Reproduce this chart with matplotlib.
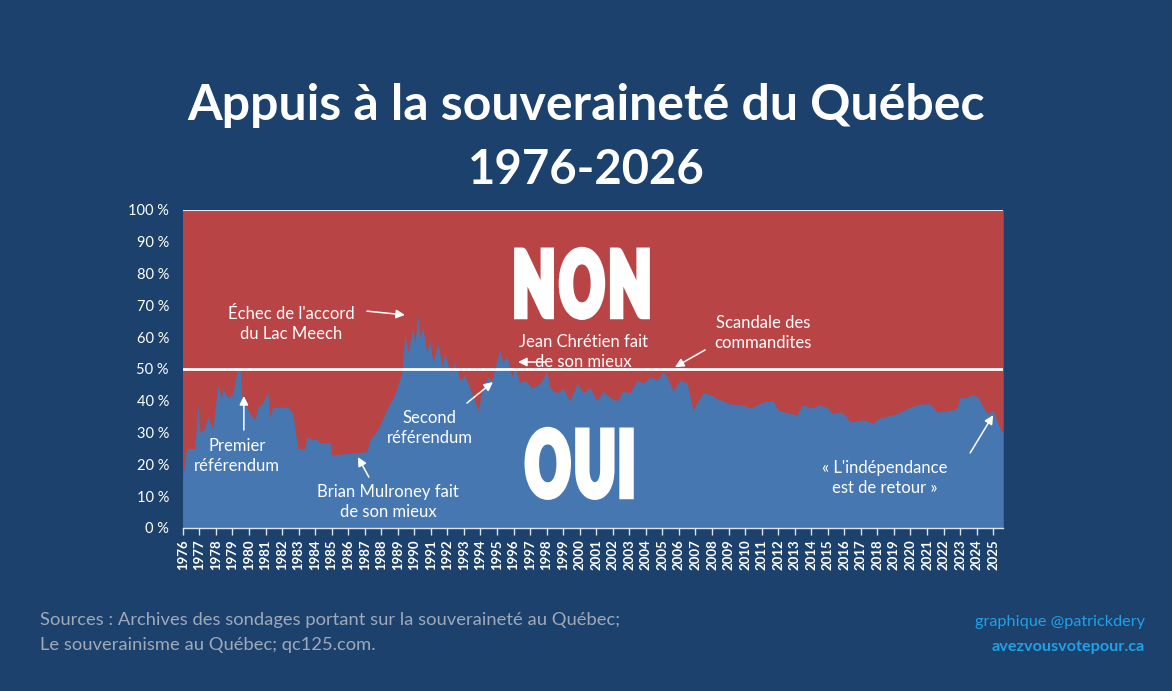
import matplotlib
matplotlib.use("Agg")
import numpy as np
import matplotlib.pyplot as plt
from matplotlib.patheffects import AbstractPathEffect
from matplotlib.path import Path
from matplotlib.transforms import IdentityTransform

# ---------------- data ----------------
years = [1976.00, 1976.20, 1976.30, 1976.73, 1976.91, 1977.03, 1977.30, 1977.51, 1977.81,
         1978.12, 1978.36, 1978.42, 1978.72, 1979.02, 1979.27, 1979.45, 1979.57, 1979.75,
         1980.05, 1980.36, 1980.54, 1980.78, 1981.14, 1981.26, 1981.44, 1982.35, 1982.65,
         1982.96, 1983.38, 1983.50, 1983.86, 1984.11, 1984.29, 1984.89, 1985.01, 1987.13,
         1987.31, 1987.80, 1988.40, 1988.83, 1989.25, 1989.43, 1989.61, 1989.91, 1990.04,
         1990.22, 1990.34, 1990.52, 1990.76, 1990.94, 1991.12, 1991.43, 1991.67, 1991.85,
         1992.15, 1992.45, 1992.76, 1993.06, 1993.36, 1993.66, 1993.85, 1994.15, 1994.45,
         1994.69, 1994.87, 1995.18, 1995.36, 1995.60, 1995.90, 1996.08, 1996.39, 1996.69,
         1997.11, 1997.60, 1998.02, 1998.20, 1998.63, 1998.99, 1999.41, 1999.84, 2000.20,
         2000.62, 2001.05, 2001.41, 2001.83, 2002.26, 2002.62, 2003.04, 2003.47, 2003.83,
         2004.25, 2004.68, 2005.04, 2005.28, 2005.64, 2006.07, 2006.49, 2006.85, 2007.16,
         2007.46, 2007.88, 2008.18, 2009.09, 2009.88, 2010.30, 2011.09, 2011.69, 2012.00,
         2013.15, 2013.45, 2014.12, 2014.42, 2014.96, 2015.26, 2015.75, 2016.05, 2016.35,
         2017.14, 2017.74, 2018.17, 2019.19, 2019.98, 2020.59, 2021.19, 2021.61, 2022.40,
         2022.82, 2023.00, 2023.43, 2023.79, 2024.09, 2024.52, 2024.70, 2025.00, 2025.43,
         2025.61]
oui = [16, 24, 25, 25, 38.7, 30, 31, 35, 31,
       45, 41, 44, 41, 42, 49, 51, 41, 39,
       36, 34, 38, 39, 42.5, 35, 38, 38, 36,
       25, 25, 28.6, 27.7, 28, 26.7, 27, 23, 24,
       27.7, 31, 38, 42, 49, 61, 55, 63, 58,
       67, 60, 63, 55, 59, 52, 58, 51, 55,
       49, 52, 46.5, 48, 44, 40, 37, 44, 47.5,
       46, 50.6, 56, 52, 54, 47.5, 50.6, 45.6, 46.5,
       44, 45.5, 49, 44, 42.5, 44, 40, 45.6, 42.5,
       44, 40, 43, 41, 40, 43, 42.5, 46.5, 45.6,
       47.5, 46.5, 49, 47.5, 43, 46.5, 45.6, 37, 40,
       42.5, 42, 41, 39, 38.7, 37.7, 39.6, 40, 37,
       35.5, 38.7, 37.7, 38.7, 38, 36, 36.5, 35.5, 33.3,
       34, 33, 34.6, 36, 38, 39, 39, 36.5, 37,
       37.7, 41, 41, 42, 41, 37, 36, 37, 31,
       30]

year_ticks = list(range(1976, 2026))
pct_ticks = list(range(0, 101, 10))
pct_labels = [f"{p} %" for p in pct_ticks]

title_lines = ["Appuis à la souveraineté du Québec", "1976-2026"]

annotations = [
    ("Échec de l'accord\ndu Lac Meech", (1982.55, 64.2), (1987.13, 68.2), (1989.43, 67.0)),
    ("Premier\nréférendum", (1979.27, 22.6), (1979.69, 30.8), (1979.69, 41.5)),
    ("Brian Mulroney fait\nde son mieux", (1988.40, 8.2), (1987.25, 16.0), (1986.59, 22.3)),
    ("Second\nréférendum", (1990.94, 31.4), (1993.18, 39.3), (1994.75, 45.9)),
    ("Jean Chrétien fait\nde son mieux", (2000.20, 55.3), (1997.90, 52.2), (1996.27, 52.2)),
    ("Scandale des\ncommandites", (2011.09, 61.3), (2007.58, 56.0), (2005.76, 50.6)),
    ("« L'indépendance\nest de retour »", (2018.47, 15.7), (2023.61, 23.6), (2025.0, 35.5)),
]

# ---------------- style ----------------
BG = "#1c416d"
RED = "#b94446"
BLUE = "#4677b1"
WHITE = "#ffffff"
FONT = ["Lato", "DejaVu Sans"]
plt.rcParams["font.family"] = FONT


class Condense(AbstractPathEffect):
    """Condensed, emboldened rendering of a text: glyph positions are pulled
    together by s_pos and each glyph outline is narrowed by s_glyph."""

    def __init__(self, s_pos, s_glyph, lw):
        super().__init__()
        self.sp = s_pos
        self.sg = s_glyph
        self.lw = lw

    def draw_path(self, renderer, gc, tpath, affine, rgbFace=None):
        verts = affine.transform(tpath.vertices)
        codes = tpath.codes
        if codes is None:
            codes = np.full(len(verts), Path.LINETO, dtype=np.uint8)
            codes[0] = Path.MOVETO
        valid = codes != Path.CLOSEPOLY
        cx = (verts[valid, 0].min() + verts[valid, 0].max()) / 2
        starts = list(np.flatnonzero(codes == Path.MOVETO)) + [len(codes)]
        new = verts.copy()
        for a, b in zip(starts[:-1], starts[1:]):
            v = verts[a:b]
            m = valid[a:b]
            if not m.any():
                continue
            ci = (v[m, 0].min() + v[m, 0].max()) / 2
            new[a:b, 0] = cx + self.sp * (ci - cx) + self.sg * (v[:, 0] - ci)
        gc0 = renderer.new_gc()
        gc0.copy_properties(gc)
        gc0.set_linewidth(self.lw)
        gc0.set_foreground(rgbFace)
        gc0.set_joinstyle("miter")
        renderer.draw_path(gc0, Path(new, codes), IdentityTransform(), rgbFace)
        gc0.restore()


fig = plt.figure(figsize=(11.72, 6.91), dpi=100, facecolor=BG)
ax = fig.add_axes([0.156, 0.2359, 0.7, 0.4602])
ax.set_facecolor(RED)

ax.fill_between(years, oui, 100, color=RED, lw=0)
ax.fill_between(years, 0, oui, color=BLUE, lw=0)
ax.axhline(50, color=WHITE, lw=2)
ax.axhline(100, color="#e8e8ee", lw=1.5)

ax.set_xlim(1976, 2025.61)
ax.set_ylim(0, 100)

ax.set_xticks(year_ticks)
ax.set_xticklabels([str(y) for y in year_ticks], rotation=90, fontsize=9.5,
                   color=WHITE, fontweight="bold")
ax.set_yticks(pct_ticks)
ax.set_yticklabels(pct_labels, fontsize=10.5, color=WHITE)
ax.tick_params(axis="x", colors="#dfe4ec", length=5, width=1, pad=3, labelcolor=WHITE)
ax.tick_params(axis="y", length=0, pad=10, labelcolor=WHITE)
for s in ["top", "right", "left"]:
    ax.spines[s].set_visible(False)
ax.spines["bottom"].set_color("#dfe4ec")
ax.spines["bottom"].set_linewidth(1)

# big labels
for word, pos in (("NON", (2000.14, 74.8)), ("OUI", (2000.02, 18.2))):
    ax.text(pos[0], pos[1], word, ha="center", va="center", color=WHITE, fontsize=65,
            fontweight="black", path_effects=[Condense(0.67, 0.6, 4.5)])

for text, txy, a0, a1 in annotations:
    ax.text(txy[0], txy[1], text, ha="center", va="center", color=WHITE,
            fontsize=12, linespacing=1.3)
    ax.annotate("", xy=a1, xytext=a0,
                arrowprops=dict(arrowstyle="-|>", color=WHITE, lw=1.1,
                                mutation_scale=13, shrinkA=0, shrinkB=0))

# titles
fig.text(0.5, 1 - 105 / 691, title_lines[0], ha="center", va="center", color=WHITE,
         fontsize=36, fontweight="bold")
fig.text(0.5, 1 - 170 / 691, title_lines[1], ha="center", va="center", color=WHITE,
         fontsize=34, fontweight="bold")

# footer
fig.text(40 / 1172, 1 - 620 / 691,
         "Sources : Archives des sondages portant sur la souveraineté au Québec;",
         ha="left", va="center", color="#a0a9b8", fontsize=13.2)
fig.text(40 / 1172, 1 - 645 / 691, "Le souverainisme au Québec; qc125.com.",
         ha="left", va="center", color="#a0a9b8", fontsize=13.2)
fig.text(1145 / 1172, 1 - 622 / 691, "graphique @patrickdery", ha="right", va="center",
         color="#22a0e6", fontsize=11.7)
fig.text(1145 / 1172, 1 - 647 / 691, "avezvousvotepour.ca", ha="right", va="center",
         color="#22a0e6", fontsize=11.7, fontweight="bold")

fig.savefig("out.png", dpi=100, facecolor=BG)
